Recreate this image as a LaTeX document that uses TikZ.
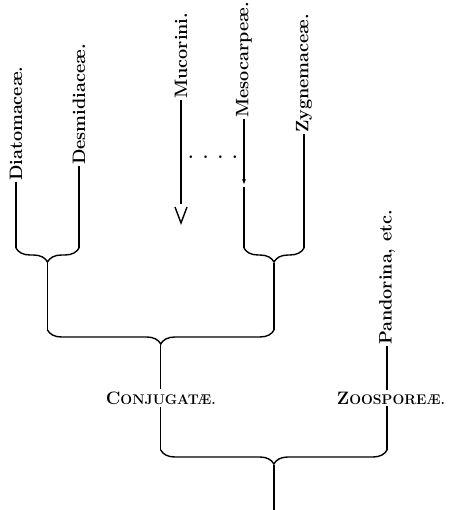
\documentclass[tikz,border=0pt]{standalone}
\usepackage{fontspec}
\usepackage{tikz}
\usetikzlibrary{arrows.meta, calc, decorations.pathreplacing}
\newcommand{\smcap}[1]{{\fontsize{14}{16}\selectfont #1}}

\begin{document}
\begin{tikzpicture}[
    x=1pt, y=-1pt,
    taxon/.style={rotate=90, anchor=west, inner sep=1pt, font=\fontsize{18}{22}\selectfont\bfseries},
    group/.style={inner sep=2pt, font=\fontsize{18}{22}\selectfont\bfseries},
    stem/.style={line width=1.4pt},
    brace/.style={line width=1.4pt, decorate, decoration={brace, mirror, amplitude=14pt}}
]
\useasboundingbox (0,0) rectangle (451,510);

% upper row of names
\node[taxon] (diatom) at (16,182) {Diatomaceæ.};
\node[taxon] (desmid) at (79,166) {Desmidiaceæ.};
\node[taxon] (mucor) at (181,100) {Mucorini.};
\node[taxon] (mesocarp) at (244,119) {Mesocarpeæ.};
\node[taxon] (zygnema) at (304,134) {Zygnemaceæ.};
\node[taxon] (pandorina) at (387,346) {Pandorina, etc.};
\node[anchor=base, inner sep=0pt, font=\fontsize{18}{22}\selectfont\bfseries] (dots) at (213,159) {. . . .};

\coordinate (diatomend) at (16,248);
\coordinate (desmidend) at (79,248);
\coordinate (mucorend) at (181,204);
\coordinate (mesomid) at (244,184);
\coordinate (mesocarpend) at (244,248);
\coordinate (zygnemaend) at (304,248);

\draw[stem] (diatom.west) -- (diatomend);
\draw[stem] (desmid.west) -- (desmidend);
\draw[stem] (mucor.west) -- (mucorend);
\draw[stem] ($(mucorend)+(-6,3)$) -- ++(6,16) -- ++(6,-16);
\draw[stem, -{Stealth[length=5pt, width=4pt]}] (mesocarp.west) -- (mesomid);
\draw[stem] ($(mesomid)+(0,3)$) -- (mesocarpend);
\draw[stem] (zygnema.west) -- (zygnemaend);

% first braces
\draw[brace] (diatomend) -- (desmidend);
\draw[brace] (mesocarpend) -- (zygnemaend);
\coordinate (tipone) at ($(diatomend)!0.5!(desmidend)+(0,15)$);
\coordinate (tiptwo) at ($(mesocarpend)!0.5!(zygnemaend)+(0,15)$);
\coordinate (leftend) at (tipone |- 0,330);
\coordinate (rightend) at (tiptwo |- 0,330);
\draw[stem] (tipone) -- (leftend);
\draw[stem] (tiptwo) -- (rightend);

% conjugatae and zoosporeae
\draw[brace] (leftend) -- (rightend);
\coordinate (tipthree) at ($(leftend)!0.5!(rightend)+(0,15)$);
\node[group] (conj) at (tipthree |- 0,398) {C\smcap{ONJUGATÆ.}};
\node[group] (zoosp) at (391,398) {Z\smcap{OOSPOREÆ.}};
\coordinate (conjend) at (tipthree |- 0,450);
\coordinate (zoospend) at (pandorina.west |- 0,450);
\draw[stem] (tipthree) -- (conj.north);
\draw[stem] (conj.south) -- (conjend);
\draw[stem] (pandorina.west) -- (pandorina.west |- zoosp.north);
\draw[stem] (pandorina.west |- zoosp.south) -- (zoospend);

% root
\draw[brace] (conjend) -- (zoospend);
\coordinate (tipfour) at ($(conjend)!0.5!(zoospend)+(0,15)$);
\coordinate (root) at (tipfour |- 0,510);
\draw[stem] (tipfour) -- (root);
\end{tikzpicture}
\end{document}
